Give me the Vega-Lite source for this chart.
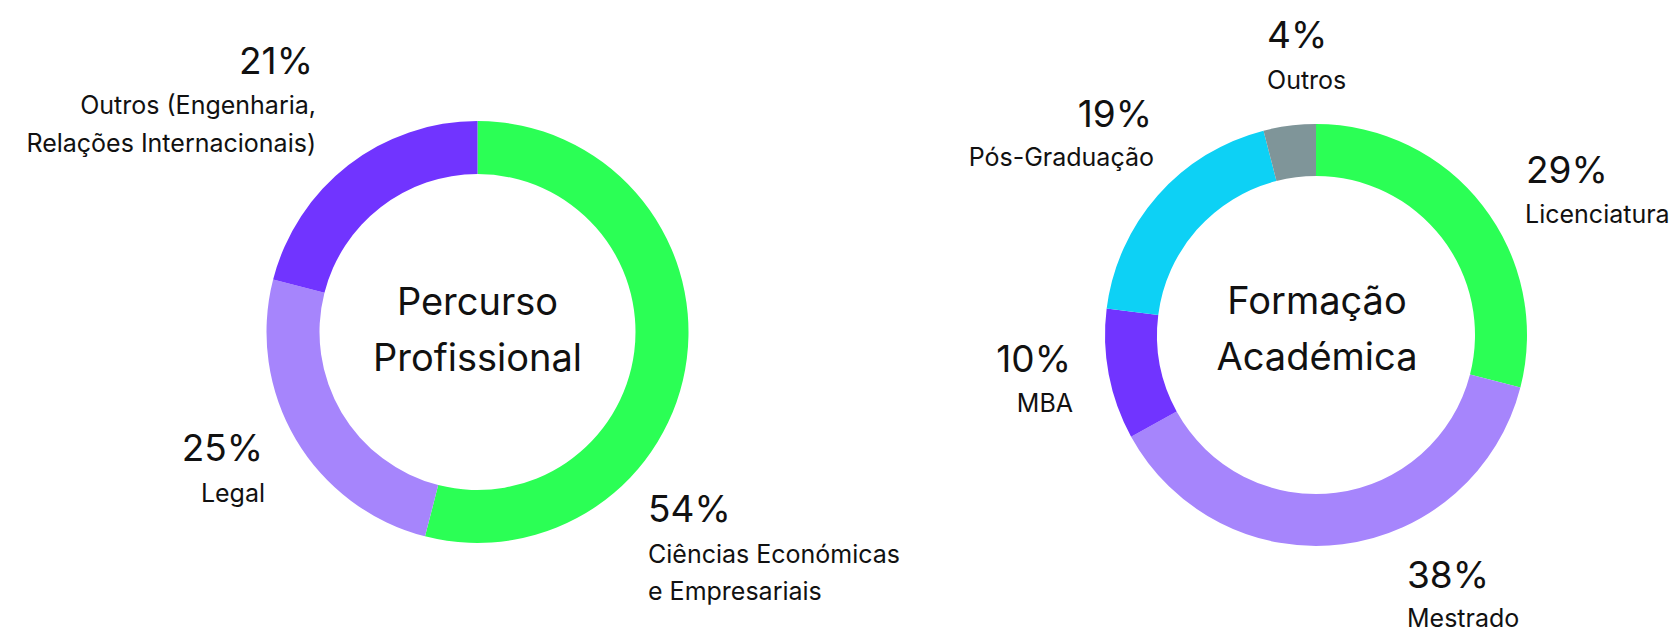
{
  "$schema": "https://vega.github.io/schema/vega-lite/v6.json",
  "padding": 0,
  "spacing": 0,
  "bounds": "flush",
  "background": "white",
  "resolve": {"scale": {"color": "independent", "theta": "independent"}},
  "config": {"view": {"stroke": null}, "font": "Inter", "text": {"font": "Inter", "color": "#111111"}},
  "hconcat": [
    {
      "width": 955,
      "height": 664,
      "data": {"values": [
        {"cat": "Ciências Económicas e Empresariais", "label": "Ciências Económicas\ne Empresariais", "share": 0.54, "idx": 1},
        {"cat": "Legal", "label": "Legal", "share": 0.25, "idx": 2},
        {"cat": "Outros", "label": "Outros (Engenharia,\nRelações Internacionais)", "share": 0.21, "idx": 3}
      ]},
      "layer": [
        {
          "mark": {"type": "arc", "innerRadius": 158, "outerRadius": 211},
          "encoding": {
            "theta": {"field": "share", "type": "quantitative", "stack": true},
            "order": {"field": "idx", "type": "quantitative"},
            "color": {"field": "cat", "type": "nominal", "legend": null,
              "scale": {"domain": ["Ciências Económicas e Empresariais", "Legal", "Outros"], "range": ["#2BFF55", "#A685FC", "#7134FF"]}}
          }
        },
        {
          "mark": {"type": "text", "radius": 240, "align": "left", "baseline": "alphabetic", "dx": -67.6, "dy": 159.9, "fontSize": 37},
          "encoding": {
            "theta": {"field": "share", "type": "quantitative", "stack": true},
            "order": {"field": "idx", "type": "quantitative"},
            "detail": {"field": "cat", "type": "nominal"},
            "text": {"condition": {"test": "datum.idx === 1", "field": "share", "type": "quantitative", "format": ".0%"}, "value": ""}
          }
        },
        {
          "mark": {"type": "text", "radius": 240, "align": "left", "baseline": "alphabetic", "dx": -67.6, "dy": 200.9, "fontSize": 25, "lineBreak": "\n", "lineHeight": 37},
          "encoding": {
            "theta": {"field": "share", "type": "quantitative", "stack": true},
            "order": {"field": "idx", "type": "quantitative"},
            "detail": {"field": "cat", "type": "nominal"},
            "text": {"condition": {"test": "datum.idx === 1", "field": "label", "type": "nominal"}, "value": ""}
          }
        },
        {
          "mark": {"type": "text", "radius": 240, "align": "right", "baseline": "alphabetic", "dx": -7.9, "dy": 6.8, "fontSize": 37},
          "encoding": {
            "theta": {"field": "share", "type": "quantitative", "stack": true},
            "order": {"field": "idx", "type": "quantitative"},
            "detail": {"field": "cat", "type": "nominal"},
            "text": {"condition": {"test": "datum.idx === 2", "field": "share", "type": "quantitative", "format": ".0%"}, "value": ""}
          }
        },
        {
          "mark": {"type": "text", "radius": 240, "align": "right", "baseline": "alphabetic", "dx": -5.9, "dy": 47.8, "fontSize": 25},
          "encoding": {
            "theta": {"field": "share", "type": "quantitative", "stack": true},
            "order": {"field": "idx", "type": "quantitative"},
            "detail": {"field": "cat", "type": "nominal"},
            "text": {"condition": {"test": "datum.idx === 2", "field": "label", "type": "nominal"}, "value": ""}
          }
        },
        {
          "mark": {"type": "text", "radius": 240, "align": "right", "baseline": "alphabetic", "dx": -17.4, "dy": -68.4, "fontSize": 37},
          "encoding": {
            "theta": {"field": "share", "type": "quantitative", "stack": true},
            "order": {"field": "idx", "type": "quantitative"},
            "detail": {"field": "cat", "type": "nominal"},
            "text": {"condition": {"test": "datum.idx === 3", "field": "share", "type": "quantitative", "format": ".0%"}, "value": ""}
          }
        },
        {
          "mark": {"type": "text", "radius": 240, "align": "right", "baseline": "alphabetic", "dx": -14.4, "dy": -28.4, "fontSize": 25, "lineBreak": "\n", "lineHeight": 38},
          "encoding": {
            "theta": {"field": "share", "type": "quantitative", "stack": true},
            "order": {"field": "idx", "type": "quantitative"},
            "detail": {"field": "cat", "type": "nominal"},
            "text": {"condition": {"test": "datum.idx === 3", "field": "label", "type": "nominal"}, "value": ""}
          }
        },
        {
          "data": {"values": [{"title": "Percurso\nProfissional"}]},
          "mark": {"type": "text", "align": "center", "baseline": "alphabetic", "dy": -17, "fontSize": 38, "lineBreak": "\n", "lineHeight": 56},
          "encoding": {"text": {"field": "title", "type": "nominal"}}
        }
      ]
    },
    {
      "width": 722,
      "height": 670,
      "data": {"values": [
        {"cat": "Licenciatura", "label": "Licenciatura", "share": 0.29, "idx": 1},
        {"cat": "Mestrado", "label": "Mestrado", "share": 0.38, "idx": 2},
        {"cat": "MBA", "label": "MBA", "share": 0.10, "idx": 3},
        {"cat": "Pós-Graduação", "label": "Pós-Graduação", "share": 0.19, "idx": 4},
        {"cat": "Outros", "label": "Outros", "share": 0.04, "idx": 5}
      ]},
      "layer": [
        {
          "mark": {"type": "arc", "innerRadius": 159, "outerRadius": 211},
          "encoding": {
            "theta": {"field": "share", "type": "quantitative", "stack": true},
            "order": {"field": "idx", "type": "quantitative"},
            "color": {"field": "cat", "type": "nominal", "legend": null,
              "scale": {"domain": ["Licenciatura", "Mestrado", "MBA", "Pós-Graduação", "Outros"], "range": ["#2BFF55", "#A685FC", "#7134FF", "#0DD1F5", "#7F9599"]}}
          }
        },
        {
          "mark": {"type": "text", "radius": 240, "align": "left", "baseline": "alphabetic", "dx": 20.4, "dy": -4.9, "fontSize": 37},
          "encoding": {
            "theta": {"field": "share", "type": "quantitative", "stack": true},
            "order": {"field": "idx", "type": "quantitative"},
            "detail": {"field": "cat", "type": "nominal"},
            "text": {"condition": {"test": "datum.idx === 1", "field": "share", "type": "quantitative", "format": ".0%"}, "value": ""}
          }
        },
        {
          "mark": {"type": "text", "radius": 240, "align": "left", "baseline": "alphabetic", "dx": 19.4, "dy": 35.1, "fontSize": 25},
          "encoding": {
            "theta": {"field": "share", "type": "quantitative", "stack": true},
            "order": {"field": "idx", "type": "quantitative"},
            "detail": {"field": "cat", "type": "nominal"},
            "text": {"condition": {"test": "datum.idx === 1", "field": "label", "type": "nominal"}, "value": ""}
          }
        },
        {
          "mark": {"type": "text", "radius": 240, "align": "left", "baseline": "alphabetic", "dx": 60.9, "dy": 14.9, "fontSize": 37},
          "encoding": {
            "theta": {"field": "share", "type": "quantitative", "stack": true},
            "order": {"field": "idx", "type": "quantitative"},
            "detail": {"field": "cat", "type": "nominal"},
            "text": {"condition": {"test": "datum.idx === 2", "field": "share", "type": "quantitative", "format": ".0%"}, "value": ""}
          }
        },
        {
          "mark": {"type": "text", "radius": 240, "align": "left", "baseline": "alphabetic", "dx": 60.9, "dy": 53.9, "fontSize": 25},
          "encoding": {
            "theta": {"field": "share", "type": "quantitative", "stack": true},
            "order": {"field": "idx", "type": "quantitative"},
            "detail": {"field": "cat", "type": "nominal"},
            "text": {"condition": {"test": "datum.idx === 2", "field": "label", "type": "nominal"}, "value": ""}
          }
        },
        {
          "mark": {"type": "text", "radius": 240, "align": "right", "baseline": "alphabetic", "dx": -9.2, "dy": -8, "fontSize": 37},
          "encoding": {
            "theta": {"field": "share", "type": "quantitative", "stack": true},
            "order": {"field": "idx", "type": "quantitative"},
            "detail": {"field": "cat", "type": "nominal"},
            "text": {"condition": {"test": "datum.idx === 3", "field": "share", "type": "quantitative", "format": ".0%"}, "value": ""}
          }
        },
        {
          "mark": {"type": "text", "radius": 240, "align": "right", "baseline": "alphabetic", "dx": -7.2, "dy": 32, "fontSize": 25},
          "encoding": {
            "theta": {"field": "share", "type": "quantitative", "stack": true},
            "order": {"field": "idx", "type": "quantitative"},
            "detail": {"field": "cat", "type": "nominal"},
            "text": {"condition": {"test": "datum.idx === 3", "field": "label", "type": "nominal"}, "value": ""}
          }
        },
        {
          "mark": {"type": "text", "radius": 240, "align": "right", "baseline": "alphabetic", "dx": 16, "dy": -49.3, "fontSize": 37},
          "encoding": {
            "theta": {"field": "share", "type": "quantitative", "stack": true},
            "order": {"field": "idx", "type": "quantitative"},
            "detail": {"field": "cat", "type": "nominal"},
            "text": {"condition": {"test": "datum.idx === 4", "field": "share", "type": "quantitative", "format": ".0%"}, "value": ""}
          }
        },
        {
          "mark": {"type": "text", "radius": 240, "align": "right", "baseline": "alphabetic", "dx": 18, "dy": -10.3, "fontSize": 25},
          "encoding": {
            "theta": {"field": "share", "type": "quantitative", "stack": true},
            "order": {"field": "idx", "type": "quantitative"},
            "detail": {"field": "cat", "type": "nominal"},
            "text": {"condition": {"test": "datum.idx === 4", "field": "label", "type": "nominal"}, "value": ""}
          }
        },
        {
          "mark": {"type": "text", "radius": 240, "align": "left", "baseline": "alphabetic", "dx": -18.9, "dy": -48.9, "fontSize": 37},
          "encoding": {
            "theta": {"field": "share", "type": "quantitative", "stack": true},
            "order": {"field": "idx", "type": "quantitative"},
            "detail": {"field": "cat", "type": "nominal"},
            "text": {"condition": {"test": "datum.idx === 5", "field": "share", "type": "quantitative", "format": ".0%"}, "value": ""}
          }
        },
        {
          "mark": {"type": "text", "radius": 240, "align": "left", "baseline": "alphabetic", "dx": -18.9, "dy": -7.9, "fontSize": 25},
          "encoding": {
            "theta": {"field": "share", "type": "quantitative", "stack": true},
            "order": {"field": "idx", "type": "quantitative"},
            "detail": {"field": "cat", "type": "nominal"},
            "text": {"condition": {"test": "datum.idx === 5", "field": "label", "type": "nominal"}, "value": ""}
          }
        },
        {
          "data": {"values": [{"title": "Formação\nAcadémica"}]},
          "mark": {"type": "text", "align": "center", "baseline": "alphabetic", "dx": 1, "dy": -21, "fontSize": 38, "lineBreak": "\n", "lineHeight": 56},
          "encoding": {"text": {"field": "title", "type": "nominal"}}
        }
      ]
    }
  ]
}
